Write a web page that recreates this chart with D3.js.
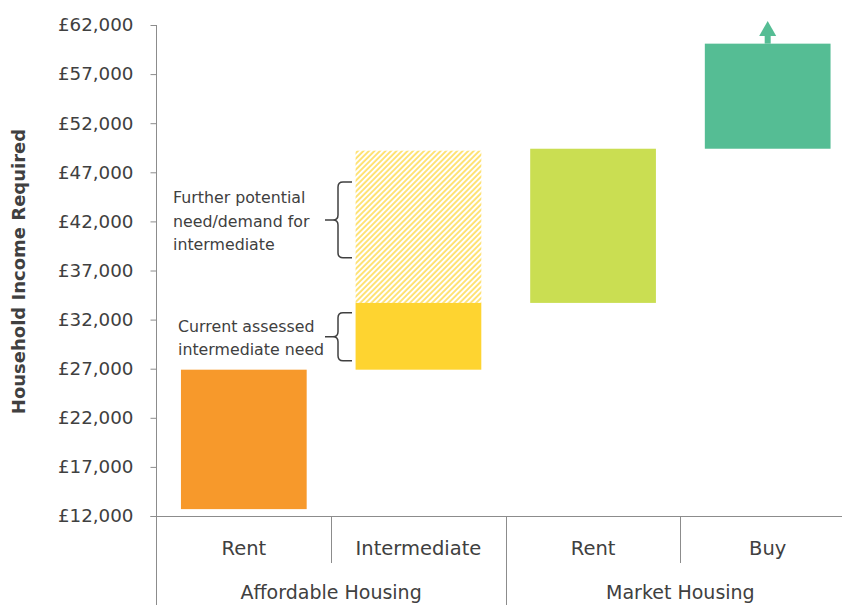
<!DOCTYPE html>
<html>
<head>
<meta charset="utf-8">
<script src="https://cdn.jsdelivr.net/npm/d3@7"></script>
<style>
  html, body { margin: 0; padding: 0; background: #fff; }
  svg { display: block; }
  text { font-family: "DejaVu Sans", sans-serif; fill: #404040; }
</style>
</head>
<body>
<svg id="chart" width="842" height="605"></svg>
<script>
// Income bands needed for each tenure (low and high end of each bar)
const categories = ["Rent", "Intermediate", "Rent", "Buy"];
const groups = ["Affordable Housing", "Market Housing"];
const groupOfCategory = [0, 0, 1, 1];
const lowValues = [12700, 26900, 33700, 49400];
const highValues = [26900, 33700, 49400, 60100];
const barColors = ["#F7992B", "#FED430", "#CADE52", "#55BD94"];

// Extra intermediate band shown hatched above the assessed need
const potentialLow = 33700;
const potentialHigh = 49200;

// Open-ended top of the "Buy" band
const buyArrowTip = 62400;

const tickValues = [12000, 17000, 22000, 27000, 32000, 37000, 42000, 47000, 52000, 57000, 62000];

// Brace annotations: [from, to, text lines]
const braceNotes = [
  { from: 46000, to: 38300, lines: ["Further potential", "need/demand for", "intermediate"], textX: 173, mid: 42150 },
  { from: 32700, to: 27800, lines: ["Current assessed", "intermediate need"], textX: 178, mid: 30250 }
];

const svg = d3.select("#chart");
const axisX = 156.5;
const plotRight = 855;
const yTop = 25, yBottom = 516;

const x = d3.scaleBand()
  .domain(d3.range(categories.length))
  .range([axisX, plotRight])
  .paddingInner(0.28)
  .paddingOuter(0.14);

const y = d3.scaleLinear()
  .domain([12000, 62000])
  .range([yBottom, yTop]);

const defs = svg.append("defs");
const pat = defs.append("pattern")
  .attr("id", "hatch")
  .attr("patternUnits", "userSpaceOnUse")
  .attr("width", 3.9)
  .attr("height", 3.9)
  .attr("patternTransform", "rotate(45)");
pat.append("line")
  .attr("x1", 1).attr("y1", 0).attr("x2", 1).attr("y2", 3.9)
  .attr("stroke", "#FED430").attr("stroke-width", 1.3);

// Y axis
const yAxis = d3.axisLeft(y)
  .tickValues(tickValues)
  .tickFormat(d => "£" + d3.format(",")(d))
  .tickSize(6)
  .tickPadding(17);

const gy = svg.append("g")
  .attr("transform", `translate(${axisX},0)`)
  .call(yAxis);
gy.select(".domain").remove();
gy.selectAll(".tick line").attr("stroke", "#8C8C8C");
gy.selectAll(".tick text")
  .style("font-family", "'DejaVu Sans', sans-serif")
  .style("font-size", "18.3px")
  .attr("fill", "#404040");

svg.append("line")
  .attr("x1", axisX).attr("x2", axisX)
  .attr("y1", yTop).attr("y2", 605)
  .attr("stroke", "#8C8C8C").attr("stroke-width", 1);

// Category axis baseline
svg.append("line")
  .attr("x1", axisX - 6).attr("x2", 842)
  .attr("y1", yBottom + 0.5).attr("y2", yBottom + 0.5)
  .attr("stroke", "#8C8C8C").attr("stroke-width", 1);

// Dividers between categories and between groups
const step = x.step();
const boundaries = d3.range(1, categories.length).map(i => x(i) - x.paddingInner() * step / 2);
boundaries.forEach((bx, k) => {
  const i = k + 1;
  const groupBreak = groupOfCategory[i] !== groupOfCategory[i - 1];
  svg.append("line")
    .attr("x1", Math.round(bx) + 0.5).attr("x2", Math.round(bx) + 0.5)
    .attr("y1", yBottom).attr("y2", groupBreak ? 605 : 563)
    .attr("stroke", "#8C8C8C").attr("stroke-width", 1);
});

// Category labels
svg.selectAll(".cat")
  .data(categories)
  .join("text")
  .attr("class", "cat")
  .attr("x", (d, i) => x(i) + x.bandwidth() / 2)
  .attr("y", 555)
  .attr("text-anchor", "middle")
  .style("font-size", "19.5px")
  .text(d => d);

// Group labels
groups.forEach((g, gi) => {
  const idx = d3.range(categories.length).filter(i => groupOfCategory[i] === gi);
  const left = gi === 0 ? axisX : boundaries[idx[0] - 1];
  const right = gi === groups.length - 1 ? plotRight : boundaries[idx[idx.length - 1]];
  svg.append("text")
    .attr("x", (left + right) / 2)
    .attr("y", 599)
    .attr("text-anchor", "middle")
    .style("font-size", "19px")
    .text(g);
});

// Hatched potential band for intermediate
svg.append("rect")
  .attr("x", x(1))
  .attr("y", y(potentialHigh))
  .attr("width", x.bandwidth())
  .attr("height", y(potentialLow) - y(potentialHigh))
  .attr("fill", "url(#hatch)");

// Floating bars
svg.selectAll(".bar")
  .data(categories)
  .join("rect")
  .attr("class", "bar")
  .attr("x", (d, i) => x(i))
  .attr("y", (d, i) => y(highValues[i]))
  .attr("width", x.bandwidth())
  .attr("height", (d, i) => y(lowValues[i]) - y(highValues[i]))
  .attr("fill", (d, i) => barColors[i]);

// Arrow above "Buy" showing the band continues upward
const ax = x(3) + x.bandwidth() / 2;
const headBase = y(buyArrowTip) + 15;
svg.append("rect")
  .attr("x", ax - 3)
  .attr("y", headBase - 1)
  .attr("width", 6)
  .attr("height", y(highValues[3]) - headBase + 1)
  .attr("fill", barColors[3]);
svg.append("path")
  .attr("d", `M${ax},${y(buyArrowTip)} L${ax + 8.5},${headBase} L${ax - 8.5},${headBase} Z`)
  .attr("fill", barColors[3]);

// Braces and their notes
braceNotes.forEach(n => {
  const t = y(n.from), b = y(n.to), m = y(n.mid);
  const bx = 338, tipX = 325, endX = 352, r = 5;
  svg.append("path")
    .attr("d", `M${endX},${t} L${bx + r},${t} Q${bx},${t} ${bx},${t + r}
                L${bx},${m - r} Q${bx},${m} ${bx - r},${m} L${tipX},${m}
                M${bx - r},${m} Q${bx},${m} ${bx},${m + r}
                L${bx},${b - r} Q${bx},${b} ${bx + r},${b} L${endX},${b}`)
    .attr("fill", "none")
    .attr("stroke", "#404040")
    .attr("stroke-width", 1.5);
  const lh = n.lines.length === 3 ? 23.5 : 23;
  const firstBase = m + 4 - (n.lines.length - 1) * lh / 2 + 3;
  n.lines.forEach((line, li) => {
    svg.append("text")
      .attr("x", n.textX)
      .attr("y", firstBase + li * lh)
      .style("font-size", "15.8px")
      .text(line);
  });
});

// Axis title
svg.append("text")
  .attr("transform", "translate(25,271.5) rotate(-90)")
  .attr("text-anchor", "middle")
  .style("font-size", "18px")
  .style("font-weight", "bold")
  .text("Household Income Required");
</script>
</body>
</html>
